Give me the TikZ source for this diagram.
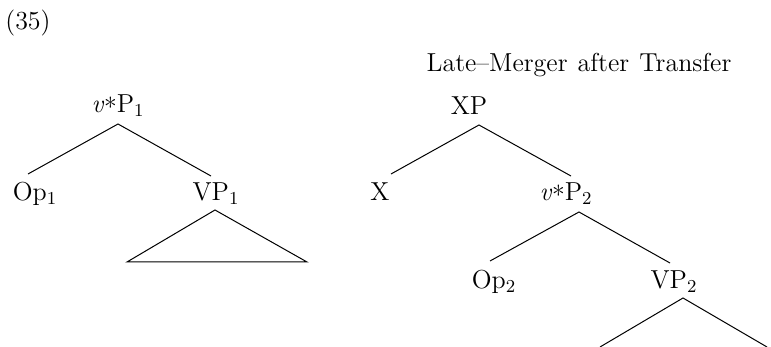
\documentclass[tikz,border=0pt]{standalone}
\usepackage{fontspec}
\setmainfont{Latin Modern Roman}
\newcommand{\vstar}{\textit{v}\raisebox{-0.3ex}{*}}
\begin{document}
\begin{tikzpicture}[x=0.5pt,y=-0.5pt,
  lab/.style={inner sep=0pt,anchor=base,font=\fontsize{13}{15}\selectfont},
  br/.style={line width=0.5pt}]
\useasboundingbox (0,0) rectangle (771,347);
% example number
\node[lab] (num) at (28,30) {(35)};
\node[lab] (title) at (579,72) {Late\textendash Merger\hspace{5pt}after\hspace{5pt}Transfer};
% left tree
\node[lab] (vP1) at (118,113) {\vstar P\textsubscript{1}};
\node[lab] (Op1) at (35,201) {Op\textsubscript{1}};
\node[lab] (VP1) at (216,201) {VP\textsubscript{1}};
\coordinate (a1) at (118,124);
\coordinate (e1l) at (28,174);
\coordinate (e1r) at (211,176);
\coordinate (t1) at (215,210);
\coordinate (t1l) at (127,262);
\coordinate (t1r) at (307,262);
\draw[br] (e1l) -- (a1) -- (e1r);
\draw[br] (t1l) -- (t1) -- (t1r) -- cycle;
% right tree
\node[lab] (XP) at (469,115) {XP};
\node[lab] (X) at (380,201) {X};
\node[lab] (vP2) at (566,201) {\vstar P\textsubscript{2}};
\node[lab] (Op2) at (494,289) {Op\textsubscript{2}};
\node[lab] (VP2) at (674,289) {VP\textsubscript{2}};
\coordinate (a2) at (479,125);
\coordinate (e2l) at (391,174);
\coordinate (e2r) at (571,176);
\coordinate (a3) at (579,212);
\coordinate (e3l) at (490,261);
\coordinate (e3r) at (670,263);
\coordinate (a4) at (683,298);
\coordinate (e4l) at (600,347);
\coordinate (e4r) at (767,347);
\draw[br] (e2l) -- (a2) -- (e2r);
\draw[br] (e3l) -- (a3) -- (e3r);
\draw[br] (e4l) -- (a4) -- (e4r);
\end{tikzpicture}
\end{document}
